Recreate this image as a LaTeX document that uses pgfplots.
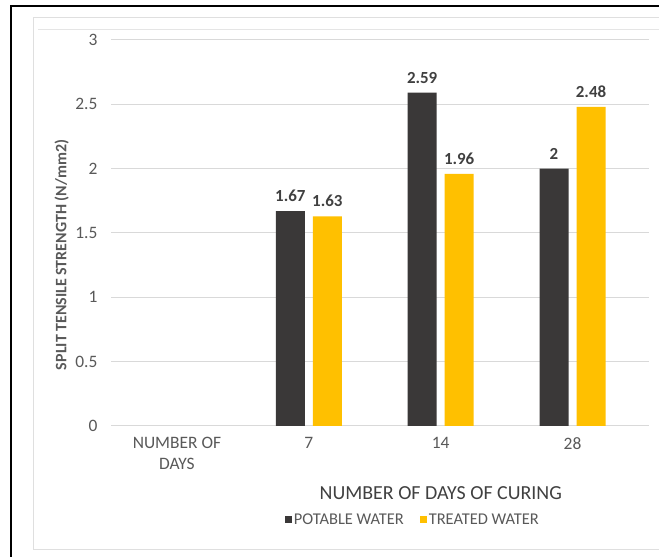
\documentclass[border=0pt]{standalone}
\usepackage{pgfplots}
\pgfplotsset{compat=1.18}
\usepackage{fontspec}
\setmainfont{Carlito}
\definecolor{darkbar}{HTML}{3A3838}
\definecolor{goldbar}{HTML}{FFC000}
\definecolor{ticktext}{HTML}{595959}
\definecolor{labeltext}{HTML}{404040}
\definecolor{gridc}{HTML}{D9D9D9}
\begin{document}
\begin{tikzpicture}[x=1bp,y=1bp]
\useasboundingbox (0,0) rectangle (659,557);
\fill[white] (0,0) rectangle (659,557);
\draw[line width=2bp] (11,0) -- (11,551) -- (659,551);
\draw[gray!25, line width=1bp] (659,539) -- (33,539) -- (33,7) -- (659,7);
\draw[gray!20, line width=1bp] (38,527) -- (659,527);
\begin{axis}[
  at={(111bp,131bp)}, anchor=south west, scale only axis,
  width=538bp, height=386bp,
  xmin=-0.5, xmax=3.58, ymin=0, ymax=3,
  /pgf/number format/assume math mode=true,
  axis line style={draw=none},
  major tick length=0pt,
  ymajorgrids, grid style={gridc, line width=1bp},
  xtick={0,1,2,3},
  xticklabels={{NUMBER OF\\DAYS},7,14,28},
  xticklabel style={align=center, font=\fontsize{17.5}{21}\selectfont, text=ticktext, yshift=-8bp},
  ytick={0,0.5,1,1.5,2,2.5,3},
  yticklabel style={font=\fontsize{17.5}{19}\selectfont, text=ticktext, xshift=-10bp},
  ylabel={SPLIT TENSILE STRENGTH (N/mm2)},
  every axis y label/.style={at={(axis description cs:-0.0915,0.443)}, rotate=90, anchor=center, font=\bfseries\fontsize{16}{18}\selectfont, text=ticktext},
  xlabel={NUMBER OF DAYS OF CURING},
  every axis x label/.style={at={(axis description cs:0.613,-0.1736)}, anchor=center, font=\fontsize{20}{24}\selectfont, text=labeltext},
  ybar, bar width=29bp,
  nodes near coords,
  every node near coord/.append style={font=\bfseries\fontsize{17}{20}\selectfont, text=labeltext, yshift=6bp},
  legend style={at={(0.561,-0.2435)}, anchor=center, draw=none, fill=none, legend columns=2,
    font=\fontsize{16.5}{19}\selectfont, text=ticktext,
    /tikz/every even column/.append style={column sep=14bp}},
  legend image code/.code={\path[#1] (0bp,-3.5bp) rectangle (7bp,3.5bp);},
]
\addplot[fill=darkbar, draw=none, bar shift=-18.5bp] coordinates {(1,1.67) (2,2.59) (3,2)};
\addplot[fill=goldbar, draw=none, bar shift=18.5bp] coordinates {(1,1.63) (2,1.96) (3,2.48)};
\legend{POTABLE WATER, TREATED WATER}
\end{axis}
\end{tikzpicture}
\end{document}
